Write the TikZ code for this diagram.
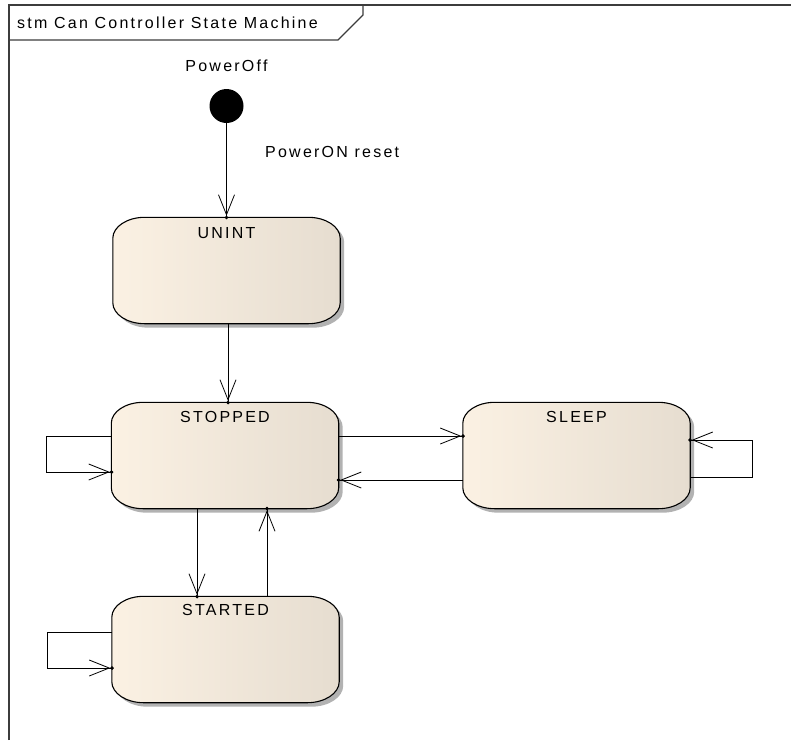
\documentclass[tikz,border=0pt]{standalone}
\usepackage{fontspec}
\setmainfont{Liberation Sans}[LetterSpace=14]
\usetikzlibrary{arrows.meta,calc}
\definecolor{stleft}{RGB}{251,241,227}
\definecolor{stright}{RGB}{230,221,208}
\definecolor{shadowgray}{RGB}{178,178,178}
\definecolor{framegray}{RGB}{60,60,60}
\newcommand\stshape[2]{%
  \path[#2] ([xshift=32pt]#1.north west) -- ([xshift=-32pt]#1.north east)
    arc[start angle=90,end angle=0,x radius=32pt,y radius=21pt]
    -- ([yshift=21pt]#1.south east)
    arc[start angle=0,end angle=-90,x radius=32pt,y radius=21pt]
    -- ([xshift=32pt]#1.south west)
    arc[start angle=-90,end angle=-180,x radius=32pt,y radius=21pt]
    -- ([yshift=-21pt]#1.north west)
    arc[start angle=180,end angle=90,x radius=32pt,y radius=21pt]
    -- cycle;}
\newcommand\mkstate[1]{%
  \begin{scope}[transform canvas={shift={(4pt,-4pt)}}]
    \stshape{#1}{fill=shadowgray}
  \end{scope}
  \stshape{#1}{left color=stleft,right color=stright,draw=black,line width=1.1pt}}
\tikzset{
  stbox/.style={rectangle,draw=none,inner sep=0pt,minimum width=227pt,minimum height=106pt},
  sttext/.style={anchor=north,inner sep=0pt,font=\fontsize{16}{19}\selectfont},
  lbl/.style={inner sep=0pt,font=\fontsize{16}{19}\selectfont},
  arr/.style={draw=black,line width=0.9pt,-{Straight Barb[length=20pt,width=16pt,line width=0.8pt,sep=0pt]Circle[length=3.5pt,sep=-2pt]}},
  frameline/.style={draw=framegray,line width=1.6pt},
  initstate/.style={circle,fill=black,draw=none,minimum size=34pt,inner sep=0pt}
}
\begin{document}
\begin{tikzpicture}[x=1pt,y=-1pt]
\useasboundingbox (0,0) rectangle (791,740);
% frame
\draw[frameline] (9,740) -- (9,5) -- (791,5);
\draw[frameline,line width=1.1pt] (9,40) -- (338,40) -- (363,15) -- (363,5);
\node[lbl,anchor=base west] (title) at (17,28) {stm Can Controller State Machine};
% initial
\node[initstate] (init) at (226.5,106) {};
\node[lbl,anchor=base] (poweroff) at (226.5,71) {PowerOff};
% states
\node[stbox] (unint) at (226.5,270.5) {};
\node[stbox] (stopped) at (225,455.5) {};
\node[stbox] (sleep) at (576.5,455.5) {};
\node[stbox] (started) at (225.5,649.5) {};
\mkstate{unint}
\mkstate{stopped}
\mkstate{sleep}
\mkstate{started}
\node[sttext] (unintT) at ([yshift=-10pt]unint.north) {UNINT};
\node[sttext] (stoppedT) at ([yshift=-9pt]stopped.north) {STOPPED};
\node[sttext] (sleepT) at ([yshift=-9pt]sleep.north) {SLEEP};
\node[sttext] (startedT) at ([yshift=-8pt]started.north) {STARTED};
% transitions
\draw[arr] (init) -- (unint);
\node[lbl,anchor=base west] (reset) at (265,157) {PowerON reset};
\draw[arr] ([xshift=1.5pt]unint.south) -- ([xshift=1.5pt]unint.south |- stopped.north);
\draw[arr] ([xshift=-28pt]stopped.south) -- ([xshift=-28pt]stopped.south |- started.north);
\draw[arr] ([xshift=41.5pt]started.north) -- ([xshift=41.5pt]started.north |- stopped.south);
\draw[arr] ([yshift=19.5pt]stopped.east) -- ([yshift=19.5pt]stopped.east -| sleep.west);
\draw[arr] ([yshift=-24.5pt]sleep.west) -- ([yshift=-24.5pt]sleep.west -| stopped.east);
% self loops
\draw[arr] ([yshift=19.5pt]stopped.west) -| ([xshift=-65pt,yshift=-16.5pt]stopped.west) -- ([yshift=-16.5pt]stopped.west);
\draw[arr] ([yshift=17.5pt]started.west) -| ([xshift=-64pt,yshift=-18.5pt]started.west) -- ([yshift=-18.5pt]started.west);
\draw[arr] ([yshift=-21.5pt]sleep.east) -| ([xshift=62pt,yshift=15.5pt]sleep.east) -- ([yshift=15.5pt]sleep.east);
\end{tikzpicture}
\end{document}
